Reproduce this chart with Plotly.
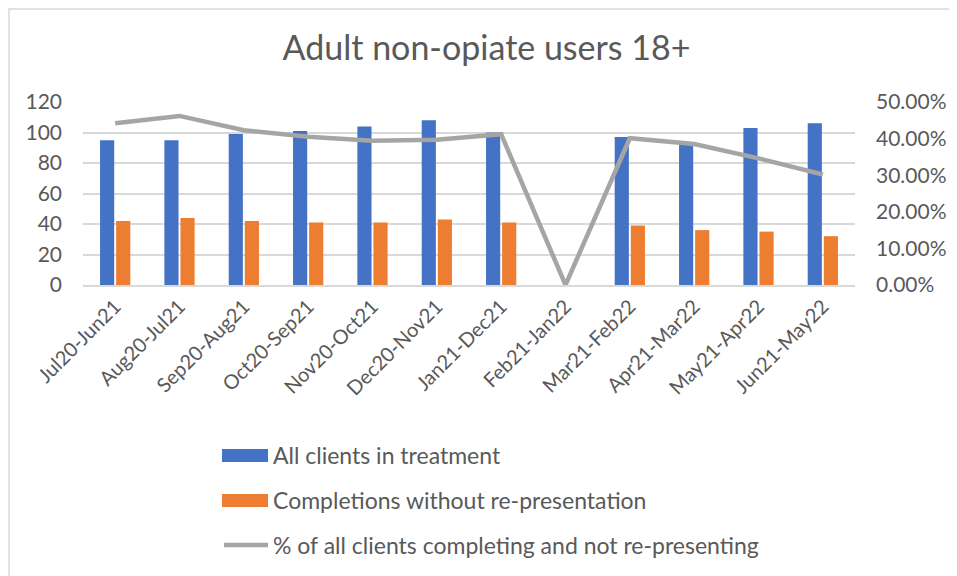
import plotly.graph_objects as go

# data
periods = ["Jul20-Jun21", "Aug20-Jul21", "Sep20-Aug21", "Oct20-Sep21", "Nov20-Oct21",
           "Dec20-Nov21", "Jan21-Dec21", "Feb21-Jan22", "Mar21-Feb22", "Apr21-Mar22",
           "May21-Apr22", "Jun21-May22"]
all_clients = [95, 95, 99, 101, 104, 108, 100, None, 97, 93, 103, 106]
completions = [42, 44, 42, 41, 41, 43, 41, None, 39, 36, 35, 32]
pct_completing = [0.442, 0.462, 0.423, 0.405, 0.394, 0.397, 0.412, 0.0, 0.401, 0.385, 0.346, 0.302]

left_ticks = [0, 20, 40, 60, 80, 100, 120]
right_ticks = [0, 0.1, 0.2, 0.3, 0.4, 0.5]

BLUE = "#4472C4"
ORANGE = "#ED7D31"
GREY = "#A5A5A5"
TXT = "#595959"
GRID = "#D9D9D9"
FONT = "Lato, Open Sans, sans-serif"

# the page puts the figure 8px in from the window corner, so margins are shifted
OFF = 8

fig = go.Figure()

fig.add_trace(go.Bar(x=periods, y=all_clients, name="All clients in treatment",
                     marker=dict(color=BLUE, line=dict(width=0))))
fig.add_trace(go.Bar(x=periods, y=completions, name="Completions without re-presentation",
                     marker=dict(color=ORANGE, line=dict(width=0))))
fig.add_trace(go.Scatter(x=periods, y=pct_completing, yaxis="y2", mode="lines",
                         name="% of all clients completing and not re-presenting",
                         line=dict(color=GREY, width=4.5)))

# plot area on the page: x 83..855 px, y 102..285 px
def px_x(p):
    return (p - 83) / 772.0


def px_y(p):
    return (285 - p) / 183.0


shapes = [
    # outer chart border (partly cut off in the screenshot)
    dict(type="rect", xref="paper", yref="paper",
         x0=px_x(OFF + 1), x1=px_x(1000), y0=px_y(700), y1=px_y(OFF + 1),
         line=dict(color=GRID, width=1.5), fillcolor="rgba(0,0,0,0)", layer="below"),
    # legend swatches
    dict(type="rect", xref="paper", yref="paper",
         x0=px_x(222), x1=px_x(268), y0=px_y(462), y1=px_y(449),
         line=dict(width=0), fillcolor=BLUE),
    dict(type="rect", xref="paper", yref="paper",
         x0=px_x(222), x1=px_x(268), y0=px_y(507), y1=px_y(494),
         line=dict(width=0), fillcolor=ORANGE),
    dict(type="line", xref="paper", yref="paper",
         x0=px_x(224), x1=px_x(268), y0=px_y(545), y1=px_y(545),
         line=dict(color=GREY, width=4.5)),
]

legend_rows = [(455, "All clients in treatment"),
               (500, "Completions without re-presentation"),
               (545, "% of all clients completing and not re-presenting")]
annotations = [
    dict(xref="paper", yref="paper", x=px_x(271), y=px_y(py), text=label,
         showarrow=False, xanchor="left", yanchor="middle",
         font=dict(family=FONT, size=23, color=TXT))
    for py, label in legend_rows
]

fig.update_layout(
    width=957, height=576,
    margin=dict(l=83 - OFF, r=102 + OFF, t=102 - OFF, b=291 + OFF),
    paper_bgcolor="white",
    plot_bgcolor="white",
    showlegend=False,
    barmode="group",
    bargap=0.5,
    bargroupgap=0.12,
    title=dict(text="Adult non-opiate users 18+", x=0.5, xanchor="center",
               y=1 - (48 - OFF) / 576, yanchor="middle",
               font=dict(family=FONT, size=34, color=TXT)),
    font=dict(family=FONT, size=20, color=TXT),
    xaxis=dict(tickangle=-45, showgrid=False, ticks="", showline=True,
               linecolor=GRID, linewidth=2, tickfont=dict(size=20, color=TXT)),
    yaxis=dict(range=[0, 120], tickvals=left_ticks, showgrid=True, gridcolor=GRID,
               gridwidth=1.5, zeroline=False, showline=False, ticks="",
               ticklabelstandoff=20, tickfont=dict(size=21, color=TXT)),
    yaxis2=dict(range=[0, 0.5], tickvals=right_ticks, tickformat=".2%", overlaying="y",
                side="right", showgrid=False, zeroline=False, showline=False, ticks="",
                ticklabelstandoff=20, tickfont=dict(size=21, color=TXT)),
    shapes=shapes,
    annotations=annotations,
)

fig.write_html("out.html")
